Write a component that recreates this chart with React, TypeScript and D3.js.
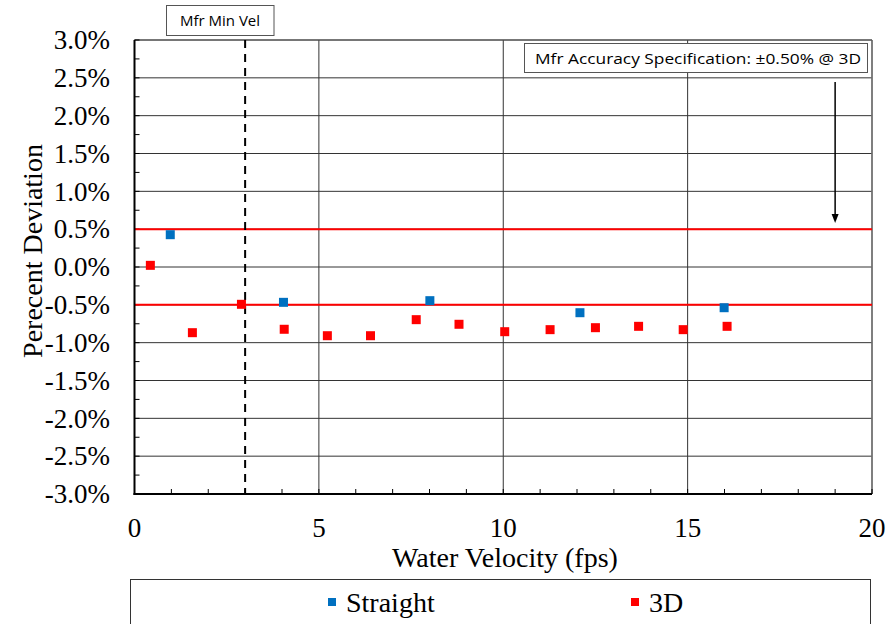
import React from "react";
import * as d3 from "d3";

const straightX = [0.97, 4.04, 8.01, 12.08, 15.99];
const straightY = [0.427, -0.467, -0.445, -0.604, -0.538];
const d3X = [0.43, 1.57, 2.9, 4.06, 5.23, 6.4, 7.64, 8.8, 10.04, 11.27, 12.5, 13.67, 14.88, 16.07];
const d3Y = [0.022, -0.868, -0.493, -0.823, -0.908, -0.908, -0.696, -0.757, -0.855, -0.828, -0.802, -0.784, -0.828, -0.784];
const xTicks = [0, 5, 10, 15, 20];
const yTicks = [3, 2.5, 2, 1.5, 1, 0.5, 0, -0.5, -1, -1.5, -2, -2.5, -3];
const specLimits = [0.5, -0.5];
const minVel = 3;
const arrowX = 19;

const W = 891, H = 624;
const L = 134.5, R = 872, T = 40, B = 494;

export default function App() {
  const x = d3.scaleLinear().domain([0, 20]).range([L, R]);
  const y = d3.scaleLinear().domain([-3, 3]).range([B, T]);
  const xMinor = d3.range(0, 21, 1);
  const yMinor = d3.range(-3, 3.001, 0.25);
  const serif = "'Liberation Serif', 'Times New Roman', serif";
  const sans = "'Open Sans', 'Noto Sans', sans-serif";
  const ms = 9;
  return (
    <svg width={W} height={H} style={{ position: "absolute", left: 0, top: 0, background: "#fff" }}>
      <rect x={0} y={0} width={W} height={H} fill="#fff" />
      {yTicks.map((t) => (
        <line key={"hg" + t} x1={L} x2={R} y1={y(t)} y2={y(t)} stroke="#333" strokeWidth={1} />
      ))}
      {xTicks.map((t) => (
        <line key={"vg" + t} x1={x(t)} x2={x(t)} y1={T} y2={B} stroke="#333" strokeWidth={1} />
      ))}
      <line x1={R} x2={R} y1={T} y2={B} stroke="#777" strokeWidth={1.5} />
      <line x1={L} x2={R} y1={T} y2={T} stroke="#555" strokeWidth={1} />
      {xMinor.map((t) => (
        <line key={"xm" + t} x1={x(t)} x2={x(t)} y1={B} y2={B - 5} stroke="#000" strokeWidth={1} />
      ))}
      {yMinor.map((t) => (
        <line key={"ym" + t} x1={L} x2={L + 5} y1={y(t)} y2={y(t)} stroke="#000" strokeWidth={1} />
      ))}
      {specLimits.map((s) => (
        <line key={"s" + s} x1={L} x2={R} y1={y(s)} y2={y(s)} stroke="#ff0000" strokeWidth={2} />
      ))}
      <line x1={x(minVel)} x2={x(minVel)} y1={T} y2={B} stroke="#000" strokeWidth={2} strokeDasharray="8,6" />
      <line x1={L} x2={L} y1={T} y2={B + 1} stroke="#000" strokeWidth={2} />
      <line x1={L - 1} x2={R} y1={B} y2={B} stroke="#000" strokeWidth={2} />
      {d3X.map((v, i) => (
        <rect key={"r" + i} x={x(v) - ms / 2} y={y(d3Y[i]) - ms / 2} width={ms} height={ms} fill="#ff0000" />
      ))}
      {straightX.map((v, i) => (
        <rect key={"b" + i} x={x(v) - ms / 2} y={y(straightY[i]) - ms / 2} width={ms} height={ms} fill="#0070c0" />
      ))}
      {yTicks.map((t) => (
        <text key={"yl" + t} x={110} y={y(t)} dy="0.34em" textAnchor="end" fontFamily={serif} fontSize={27} fill="#000">
          {t.toFixed(1) + "%"}
        </text>
      ))}
      {xTicks.map((t) => (
        <text key={"xl" + t} x={x(t)} y={537} textAnchor="middle" fontFamily={serif} fontSize={27} fill="#000">
          {t}
        </text>
      ))}
      <text x={505} y={567} textAnchor="middle" fontFamily={serif} fontSize={28} fill="#000">
        Water Velocity (fps)
      </text>
      <text transform={`translate(42,251) rotate(-90)`} textAnchor="middle" fontFamily={serif} fontSize={28} fill="#000">
        Perecent Deviation
      </text>
      <rect x={166.5} y={5.5} width={107.5} height={30} fill="#fff" stroke="#555" strokeWidth={1} />
      <text x={220} y={26} textAnchor="middle" fontFamily={sans} fontSize={15} fill="#000">
        Mfr Min Vel
      </text>
      <rect x={524.5} y={43.5} width={343} height={29} fill="#fff" stroke="#555" strokeWidth={1} />
      <text x={535} y={64} fontFamily={sans} fontSize={14.5} fill="#000" textLength={326} lengthAdjust="spacingAndGlyphs">
        Mfr Accuracy Specification: ±0.50% @ 3D
      </text>
      <line x1={x(arrowX)} x2={x(arrowX)} y1={82} y2={215} stroke="#000" strokeWidth={1.5} />
      <path d={`M${x(arrowX) - 3.5},${214} L${x(arrowX) + 3.5},${214} L${x(arrowX)},${223} Z`} fill="#000" />
      <rect x={130.5} y={579.5} width={740} height={60} fill="#fff" stroke="#333" strokeWidth={1} />
      <rect x={328} y={598} width={8} height={8} fill="#0070c0" />
      <text x={346} y={612} fontFamily={serif} fontSize={28} fill="#000">Straight</text>
      <rect x={631} y={598} width={8} height={8} fill="#ff0000" />
      <text x={649} y={612} fontFamily={serif} fontSize={28} fill="#000">3D</text>
    </svg>
  );
}
